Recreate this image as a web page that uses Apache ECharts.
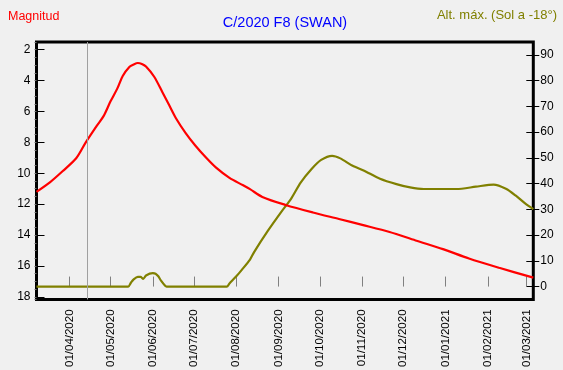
<!DOCTYPE html>
<html>
<head>
<meta charset="utf-8">
<script src="https://cdn.jsdelivr.net/npm/echarts@6/dist/echarts.min.js"></script>
<style>
html,body{margin:0;padding:0;background:#f0f0f0;}
#c{width:563px;height:370px;}
</style>
</head>
<body>
<div id="c"></div>
<script>
// ---- data ----
var titleText = 'C/2020 F8 (SWAN)';
var leftAxisName = 'Magnitud';
var rightAxisName = 'Alt. máx. (Sol a -18°)';
var todayMarker = '2020-04-14';

var magDates = ['2020-03-08','2020-03-18','2020-03-27','2020-04-06','2020-04-13','2020-04-21','2020-04-26','2020-05-01','2020-05-06','2020-05-10','2020-05-15','2020-05-18','2020-05-21','2020-05-24','2020-05-27','2020-06-02','2020-06-08','2020-06-13','2020-06-18','2020-06-25','2020-07-02','2020-07-10','2020-07-17','2020-07-27','2020-08-06','2020-08-11','2020-08-20','2020-09-06','2020-09-26','2020-10-15','2020-11-01','2020-11-21','2020-12-10','2020-12-30','2021-01-18','2021-02-09','2021-03-06'];
var magValues = [11.2,10.57,9.87,9.03,8.0,6.93,6.3,5.36,4.52,3.7,3.1,2.95,2.86,2.92,3.09,3.75,4.75,5.6,6.45,7.4,8.2,9.0,9.62,10.3,10.78,11.03,11.53,12.05,12.54,12.96,13.34,13.8,14.35,14.91,15.52,16.12,16.76];

var altDates = ['2020-03-08','2020-05-14','2020-05-16','2020-05-18','2020-05-21','2020-05-23','2020-05-25','2020-05-27','2020-06-01','2020-06-03','2020-06-05','2020-06-07','2020-06-10','2020-06-11','2020-07-25','2020-07-27','2020-08-01','2020-08-05','2020-08-11','2020-08-14','2020-08-24','2020-09-03','2020-09-10','2020-09-17','2020-09-25','2020-10-02','2020-10-10','2020-10-16','2020-10-25','2020-11-02','2020-11-14','2020-11-26','2020-12-06','2020-12-16','2021-01-09','2021-01-23','2021-02-05','2021-02-14','2021-02-21','2021-02-28','2021-03-06'];
var altValues = [0,0,1.5,2.8,3.8,3.8,3.0,4.3,5.2,5.0,4.0,2.3,0.3,0,0,1.2,4,6.5,10.5,13.4,21.6,29.1,34.1,40.4,45.7,49.2,50.8,49.8,46.9,45.1,41.9,39.8,38.5,37.9,37.9,38.8,39.6,38.0,35.4,32.3,30.1];

var xTickDates = ['2020-04-01','2020-05-01','2020-06-01','2020-07-01','2020-08-01','2020-09-01','2020-10-01','2020-11-01','2020-12-01','2021-01-01','2021-02-01','2021-03-01'];
var magTicks = [2,4,6,8,10,12,14,16,18];
var altTicks = [0,10,20,30,40,50,60,70,80,90];

// ---- helpers ----
function ts(s){ var p=s.split('-'); return new Date(+p[0], +p[1]-1, +p[2]).getTime(); }
function pad(n){ return (n<10?'0':'')+n; }
function fmt(v){ var d=new Date(v); return pad(d.getDate())+'/'+pad(d.getMonth()+1)+'/'+d.getFullYear(); }

var magData = magDates.map(function(d,i){ return [ts(d), magValues[i]]; });
var altData = altDates.map(function(d,i){ return [ts(d), altValues[i]]; });
var xTicks = xTickDates.map(ts);

var FONT = '"Liberation Sans", Arial, sans-serif';
var RED = '#ff0000', OLIVE = '#808000';

var chart = echarts.init(document.getElementById('c'), null, {renderer:'canvas'});
chart.setOption({
  animation:false,
  backgroundColor:'#f0f0f0',
  textStyle:{fontFamily:FONT},
  grid:{left:36.5, right:29.7, top:42, bottom:63.3, show:true, borderColor:'#000', borderWidth:3, backgroundColor:'transparent', containLabel:false},
  graphic:[
    {type:'text', x:285, y:22.5, style:{text:titleText, fill:'#0000ff', font:'14.5px '+FONT, textAlign:'center', textVerticalAlign:'middle'}},
    {type:'text', x:8, y:16.5, style:{text:leftAxisName, fill:RED, font:'12.5px '+FONT, textAlign:'left', textVerticalAlign:'middle'}},
    {type:'text', x:557, y:15.5, style:{text:rightAxisName, fill:OLIVE, font:'13px '+FONT, textAlign:'right', textVerticalAlign:'middle'}}
  ],
  xAxis:{
    type:'value', min:ts('2020-03-08'), max:ts('2021-03-06'),
    axisLine:{show:false},
    splitLine:{show:false},
    axisTick:{show:true, inside:true, length:10, customValues:xTicks, lineStyle:{color:'#808080', width:1}},
    axisLabel:{show:true, rotate:90, margin:10, customValues:xTicks, formatter:function(v){return fmt(v);}, color:'#000', fontSize:11.5, fontFamily:FONT, hideOverlap:false}
  },
  yAxis:[
    {type:'value', position:'left', inverse:true, min:1.5, max:18.17, offset:0,
      axisLine:{show:false}, splitLine:{show:false},
      axisTick:{show:true, inside:true, length:8, customValues:magTicks, lineStyle:{color:'#000', width:1}},
      axisLabel:{show:true, margin:6, customValues:magTicks, color:'#000', fontSize:12, fontFamily:FONT}},
    {type:'value', position:'right', min:-5, max:95, offset:0,
      axisLine:{show:false}, splitLine:{show:false},
      axisTick:{show:true, inside:false, length:6, customValues:altTicks, lineStyle:{color:'#000', width:1}},
      axisLabel:{show:true, margin:7, customValues:altTicks, color:'#000', fontSize:12, fontFamily:FONT}},
    {type:'value', position:'right', min:-5, max:95, offset:0,
      axisLine:{show:false}, splitLine:{show:false},
      axisTick:{show:true, inside:true, length:7, customValues:altTicks, lineStyle:{color:'#000', width:1}},
      axisLabel:{show:false}},
    {type:'value', position:'left', inverse:true, min:1.5, max:18.17, interval:0.5, offset:0,
      axisLine:{show:false}, splitLine:{show:false},
      axisTick:{show:true, inside:false, length:2, lineStyle:{color:'#707070', width:1}},
      axisLabel:{show:false}}
  ],
  series:[
    {type:'line', name:'alt', yAxisIndex:1, data:altData, showSymbol:false, smooth:0.25,
      lineStyle:{color:OLIVE, width:2.2}, z:2},
    {type:'line', name:'mag', yAxisIndex:0, data:magData, showSymbol:false, smooth:0.3,
      lineStyle:{color:RED, width:2.2}, z:3,
      markLine:{silent:true, symbol:['none','none'], label:{show:false}, lineStyle:{color:'#a0a0a0', width:1, type:'solid'},
        data:[{xAxis:ts(todayMarker)}]}}
  ]
});
</script>
</body>
</html>
